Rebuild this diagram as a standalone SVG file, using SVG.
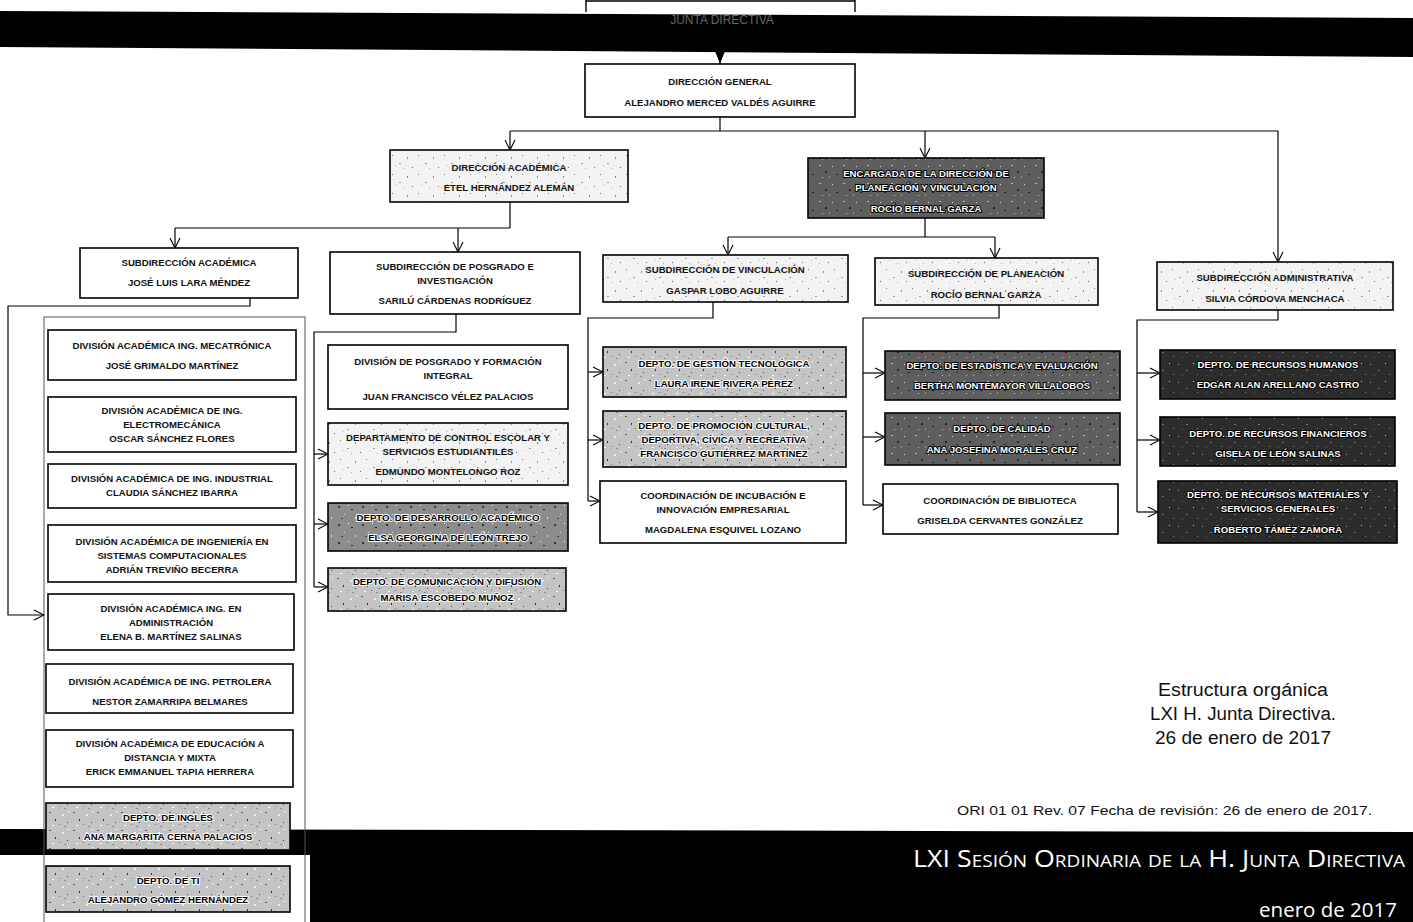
<svg xmlns="http://www.w3.org/2000/svg" width="1413" height="922" viewBox="0 0 1413 922">
<style>
.box{stroke:#000;stroke-width:1.6}
.w{fill:#fff}
.pl{fill:url(#pL)}
.pm{fill:url(#pM)}
.pd{fill:url(#pD)}
.pdd{fill:url(#pDD)}
.pvd{fill:url(#pVD)}
.t{font-family:"Liberation Sans",Arial,sans-serif;font-weight:bold;font-size:9.6px;text-anchor:middle;fill:#111}
.tw{fill:#fff;stroke:#000;stroke-width:2px;paint-order:stroke;stroke-linejoin:round}
.th{fill:#000;stroke:#fff;stroke-width:2px;paint-order:stroke;stroke-linejoin:round}
.c{fill:none;stroke:#000;stroke-width:1.2}
.a{fill:none;stroke:#000;stroke-width:1.2;marker-end:url(#arr)}
.ft{font-family:"Liberation Sans",Arial,sans-serif;fill:#111}
</style>
<defs>
<marker id="arr" markerWidth="12" markerHeight="12" refX="11" refY="6" orient="auto" markerUnits="userSpaceOnUse">
<path d="M1,1 L11,6 L1,11" fill="none" stroke="#000" stroke-width="1.1"/>
</marker>
<marker id="arrF" markerWidth="12" markerHeight="14" refX="6" refY="13" orient="0" markerUnits="userSpaceOnUse">
<path d="M1,0 L11,0 L6,13 Z" fill="#000"/>
</marker>
<pattern id="pL" width="26" height="19" patternUnits="userSpaceOnUse">
<rect width="26" height="19" fill="#f3f3f3"/>
<rect x="2" y="3" width="1" height="1" fill="#777"/><rect x="9" y="11" width="2" height="1" fill="#999"/>
<rect x="17" y="5" width="1" height="2" fill="#888"/><rect x="22" y="15" width="1" height="1" fill="#666"/>
<rect x="13" y="16" width="1" height="1" fill="#aaa"/><rect x="5" y="13" width="1" height="1" fill="#bbb"/>
</pattern>
<pattern id="pM" width="24" height="18" patternUnits="userSpaceOnUse">
<rect width="24" height="18" fill="#c4c4c4"/>
<rect x="1" y="2" width="2" height="1" fill="#555"/><rect x="7" y="9" width="1" height="2" fill="#333"/>
<rect x="14" y="4" width="2" height="2" fill="#f0f0f0"/><rect x="19" y="12" width="1" height="1" fill="#444"/>
<rect x="4" y="15" width="2" height="1" fill="#fff"/><rect x="11" y="14" width="1" height="1" fill="#666"/>
<rect x="20" y="1" width="1" height="1" fill="#fff"/><rect x="16" y="16" width="2" height="1" fill="#888"/>
</pattern>
<pattern id="pD" width="24" height="18" patternUnits="userSpaceOnUse">
<rect width="24" height="18" fill="#8c8c8c"/>
<rect x="2" y="2" width="2" height="2" fill="#333"/><rect x="8" y="10" width="1" height="1" fill="#ddd"/>
<rect x="15" y="5" width="2" height="1" fill="#222"/><rect x="19" y="13" width="1" height="2" fill="#e5e5e5"/>
<rect x="5" y="14" width="2" height="1" fill="#444"/><rect x="12" y="1" width="1" height="1" fill="#fff"/>
</pattern>
<pattern id="pDD" width="24" height="18" patternUnits="userSpaceOnUse">
<rect width="24" height="18" fill="#5e5e5e"/>
<rect x="3" y="3" width="2" height="1" fill="#bbb"/><rect x="9" y="9" width="2" height="2" fill="#222"/>
<rect x="16" y="4" width="1" height="1" fill="#ddd"/><rect x="20" y="12" width="2" height="1" fill="#1a1a1a"/>
<rect x="6" y="15" width="1" height="1" fill="#ccc"/><rect x="13" y="14" width="1" height="2" fill="#999"/>
</pattern>
<pattern id="pVD" width="24" height="18" patternUnits="userSpaceOnUse">
<rect width="24" height="18" fill="#2c2c2c"/>
<rect x="2" y="4" width="1" height="1" fill="#aaa"/><rect x="10" y="10" width="2" height="1" fill="#777"/>
<rect x="17" y="3" width="1" height="1" fill="#ccc"/><rect x="21" y="14" width="1" height="1" fill="#888"/>
<rect x="6" y="15" width="1" height="1" fill="#666"/>
</pattern>
</defs>

<rect width="1413" height="922" fill="#fff"/>

<!-- top band -->
<g id="topband">
<path d="M586,0 V12 M855,0 V12 M586,1 H855" fill="none" stroke="#000" stroke-width="1.4"/>
<polygon points="0,11 1413,18 1413,57 0,47" fill="#000"/>
<text x="722" y="24" font-family="Liberation Sans,Arial,sans-serif" font-size="12" text-anchor="middle" fill="#666">JUNTA DIRECTIVA</text>
</g>

<!-- bottom band -->
<g id="bottomband">
<polygon points="0,829 1413,832 1413,922 0,922" fill="#000"/>
<rect x="0" y="855" width="310" height="67" fill="#fff"/>
<text x="1405" y="867" font-family="Open Sans,Liberation Sans,sans-serif" font-size="24" font-variant="small-caps" text-anchor="end" textLength="492" lengthAdjust="spacingAndGlyphs" fill="#fff">LXI Sesión Ordinaria de la H. Junta Directiva</text>
<text x="1397" y="917" font-family="Open Sans,Liberation Sans,sans-serif" font-size="20.5" text-anchor="end" fill="#fff">enero de 2017</text>
</g>

<!-- left column frame -->
<g id="leftframe">
<rect x="44" y="317" width="261" height="620" fill="none" stroke="#555" stroke-width="1"/>
</g>

<!-- connectors -->
<g id="connectors">
<path d="M720,47 V64" fill="none" stroke="#000" stroke-width="1.2" marker-end="url(#arrF)"/>
<path class="c" d="M720,117 V131 M510,131 H1278"/>
<path class="a" d="M510,131 V150"/>
<path class="a" d="M925,131 V158"/>
<path class="a" d="M1278,131 V262"/>
<path class="c" d="M510,202 V228 M175,228 H510"/>
<path class="a" d="M175,228 V248"/>
<path class="a" d="M458,228 V252"/>
<path class="c" d="M925,218 V237 M728,237 H995"/>
<path class="a" d="M728,237 V255"/>
<path class="a" d="M995,237 V258"/>
<path class="a" d="M250,298 V306 H8 V615 H44"/>
<path class="c" d="M456,314 V332 H314 V587"/>
<path class="a" d="M314,454 H328"/>
<path class="a" d="M314,524 H328"/>
<path class="a" d="M314,587 H328"/>
<path class="c" d="M713,302 V318 H588 V501"/>
<path class="a" d="M588,372 H603"/>
<path class="a" d="M588,440 H603"/>
<path class="a" d="M588,501 H600"/>
<path class="c" d="M999,305 V318 H863 V505" stroke-width="1.6"/>
<path class="a" d="M863,373 H885"/>
<path class="a" d="M863,437 H885"/>
<path class="a" d="M863,505 H883"/>
<path class="c" d="M1278,310 V320 H1137 V512" stroke-width="1.6"/>
<path class="a" d="M1137,373 H1160"/>
<path class="a" d="M1137,440 H1160"/>
<path class="a" d="M1137,512 H1158"/>
</g>

<!-- top level nodes -->
<g id="n-direccion-general"><rect class="box w" x="585" y="64" width="270" height="53"/>
<text class="t" x="720" y="85">DIRECCIÓN GENERAL</text><text class="t" x="720" y="106">ALEJANDRO MERCED VALDÉS AGUIRRE</text></g>

<g id="n-direccion-academica"><rect class="box pl" x="390" y="150" width="238" height="52"/>
<text class="t" x="509" y="171">DIRECCIÓN ACADÉMICA</text><text class="t" x="509" y="191">ETEL HERNÁNDEZ ALEMÁN</text></g>

<g id="n-encargada"><rect class="box pdd" x="808" y="158" width="236" height="60"/>
<text class="t tw" x="926" y="177">ENCARGADA DE LA DIRECCIÓN DE</text><text class="t tw" x="926" y="191">PLANEACIÓN Y VINCULACIÓN</text><text class="t tw" x="926" y="212">ROCÍO BERNAL GARZA</text></g>

<g id="n-sub-academica"><rect class="box w" x="80" y="248" width="218" height="50"/>
<text class="t" x="189" y="266">SUBDIRECCIÓN ACADÉMICA</text><text class="t" x="189" y="286">JOSÉ LUIS LARA MÉNDEZ</text></g>

<g id="n-sub-posgrado"><rect class="box w" x="330" y="252" width="250" height="62"/>
<text class="t" x="455" y="270">SUBDIRECCIÓN DE POSGRADO E</text><text class="t" x="455" y="284">INVESTIGACIÓN</text><text class="t" x="455" y="304">SARILÚ CÁRDENAS RODRÍGUEZ</text></g>

<g id="n-sub-vinculacion"><rect class="box pl" x="603" y="255" width="245" height="47"/>
<text class="t" x="725" y="273">SUBDIRECCIÓN DE VINCULACIÓN</text><text class="t" x="725" y="294">GASPAR LOBO AGUIRRE</text></g>

<g id="n-sub-planeacion"><rect class="box pl" x="875" y="258" width="223" height="47"/>
<text class="t" x="986" y="277">SUBDIRECCIÓN DE PLANEACIÓN</text><text class="t" x="986" y="298">ROCÍO BERNAL GARZA</text></g>

<g id="n-sub-administrativa"><rect class="box pl" x="1157" y="262" width="236" height="48"/>
<text class="t" x="1275" y="281">SUBDIRECCIÓN ADMINISTRATIVA</text><text class="t" x="1275" y="302">SILVIA CÓRDOVA MENCHACA</text></g>

<!-- left column -->
<g id="n-div-mecatronica"><rect class="box w" x="48" y="330" width="248" height="50"/>
<text class="t" x="172" y="349">DIVISIÓN ACADÉMICA ING. MECATRÓNICA</text><text class="t" x="172" y="369">JOSÉ GRIMALDO MARTÍNEZ</text></g>
<g id="n-div-electromecanica"><rect class="box w" x="48" y="397" width="248" height="55"/>
<text class="t" x="172" y="414">DIVISIÓN ACADÉMICA DE ING.</text><text class="t" x="172" y="428">ELECTROMECÁNICA</text><text class="t" x="172" y="442">OSCAR SÁNCHEZ FLORES</text></g>
<g id="n-div-industrial"><rect class="box w" x="48" y="464" width="248" height="44"/>
<text class="t" x="172" y="482">DIVISIÓN ACADÉMICA DE ING. INDUSTRIAL</text><text class="t" x="172" y="496">CLAUDIA SÁNCHEZ IBARRA</text></g>
<g id="n-div-sistemas"><rect class="box w" x="48" y="525" width="248" height="57"/>
<text class="t" x="172" y="545">DIVISIÓN ACADÉMICA DE INGENIERÍA EN</text><text class="t" x="172" y="559">SISTEMAS COMPUTACIONALES</text><text class="t" x="172" y="573">ADRIÁN TREVIÑO BECERRA</text></g>
<g id="n-div-administracion"><rect class="box w" x="48" y="594" width="246" height="56"/>
<text class="t" x="171" y="612">DIVISIÓN ACADÉMICA ING. EN</text><text class="t" x="171" y="626">ADMINISTRACIÓN</text><text class="t" x="171" y="640">ELENA B. MARTÍNEZ SALINAS</text></g>
<g id="n-div-petrolera"><rect class="box w" x="46" y="664" width="247" height="49"/>
<text class="t" x="170" y="685">DIVISIÓN ACADÉMICA DE ING. PETROLERA</text><text class="t" x="170" y="705">NESTOR ZAMARRIPA BELMARES</text></g>
<g id="n-div-distancia"><rect class="box w" x="46" y="730" width="247" height="57"/>
<text class="t" x="170" y="747">DIVISIÓN ACADÉMICA DE EDUCACIÓN A</text><text class="t" x="170" y="761">DISTANCIA Y MIXTA</text><text class="t" x="170" y="775">ERICK EMMANUEL TAPIA HERRERA</text></g>
<g id="n-depto-ingles"><rect class="box pm" x="46" y="803" width="244" height="47"/>
<text class="t th" x="168" y="821">DEPTO. DE INGLÉS</text><text class="t th" x="168" y="840">ANA MARGARITA CERNA PALACIOS</text></g>
<g id="n-depto-ti"><rect class="box pm" x="46" y="866" width="244" height="46"/>
<text class="t th" x="168" y="884">DEPTO. DE TI</text><text class="t th" x="168" y="903">ALEJANDRO GÓMEZ HERNÁNDEZ</text></g>

<!-- posgrado column -->
<g id="n-div-posgrado"><rect class="box w" x="328" y="345" width="240" height="64"/>
<text class="t" x="448" y="365">DIVISIÓN DE POSGRADO Y FORMACIÓN</text><text class="t" x="448" y="379">INTEGRAL</text><text class="t" x="448" y="400">JUAN FRANCISCO VÉLEZ PALACIOS</text></g>
<g id="n-control-escolar"><rect class="box pl" x="328" y="423" width="240" height="62"/>
<text class="t" x="448" y="441">DEPARTAMENTO DE CONTROL ESCOLAR Y</text><text class="t" x="448" y="455">SERVICIOS ESTUDIANTILES</text><text class="t" x="448" y="475">EDMUNDO MONTELONGO ROZ</text></g>
<g id="n-desarrollo-academico"><rect class="box pd" x="328" y="503" width="240" height="48"/>
<text class="t th" x="448" y="521">DEPTO. DE DESARROLLO ACADÉMICO</text><text class="t th" x="448" y="541">ELSA GEORGINA DE LEÓN TREJO</text></g>
<g id="n-comunicacion"><rect class="box pm" x="328" y="568" width="238" height="43"/>
<text class="t th" x="447" y="585">DEPTO. DE COMUNICACIÓN Y DIFUSIÓN</text><text class="t th" x="447" y="601">MARISA ESCOBEDO MUÑOZ</text></g>

<!-- vinculacion column -->
<g id="n-gestion-tecnologica"><rect class="box pm" x="603" y="347" width="243" height="50"/>
<text class="t th" x="724" y="367">DEPTO. DE GESTIÓN TECNOLÓGICA</text><text class="t th" x="724" y="387">LAURA IRENE RIVERA PÉREZ</text></g>
<g id="n-promocion-cultural"><rect class="box pm" x="603" y="411" width="243" height="56"/>
<text class="t th" x="724" y="429">DEPTO. DE PROMOCIÓN CULTURAL,</text><text class="t th" x="724" y="443">DEPORTIVA, CÍVICA Y RECREATIVA</text><text class="t th" x="724" y="457">FRANCISCO GUTIÉRREZ MARTÍNEZ</text></g>
<g id="n-incubacion"><rect class="box w" x="600" y="481" width="246" height="62"/>
<text class="t" x="723" y="499">COORDINACIÓN DE INCUBACIÓN E</text><text class="t" x="723" y="513">INNOVACIÓN EMPRESARIAL</text><text class="t" x="723" y="533">MAGDALENA ESQUIVEL LOZANO</text></g>

<!-- planeacion column -->
<g id="n-estadistica"><rect class="box pdd" x="885" y="351" width="235" height="49"/>
<text class="t tw" x="1002" y="369">DEPTO. DE ESTADÍSTICA Y EVALUACIÓN</text><text class="t tw" x="1002" y="389">BERTHA MONTEMAYOR VILLALOBOS</text></g>
<g id="n-calidad"><rect class="box pdd" x="885" y="413" width="235" height="52"/>
<text class="t tw" x="1002" y="432">DEPTO. DE CALIDAD</text><text class="t tw" x="1002" y="453">ANA JOSEFINA MORALES CRUZ</text></g>
<g id="n-biblioteca"><rect class="box w" x="883" y="484" width="235" height="50"/>
<text class="t" x="1000" y="504">COORDINACIÓN DE BIBLIOTECA</text><text class="t" x="1000" y="524">GRISELDA CERVANTES GONZÁLEZ</text></g>

<!-- administrativa column -->
<g id="n-rh"><rect class="box pvd" x="1160" y="350" width="235" height="49"/>
<text class="t tw" x="1278" y="368">DEPTO. DE RECURSOS HUMANOS</text><text class="t tw" x="1278" y="388">EDGAR ALAN ARELLANO CASTRO</text></g>
<g id="n-rf"><rect class="box pvd" x="1160" y="417" width="235" height="49"/>
<text class="t tw" x="1278" y="437">DEPTO. DE RECURSOS FINANCIEROS</text><text class="t tw" x="1278" y="457">GISELA DE LEÓN SALINAS</text></g>
<g id="n-rm"><rect class="box pvd" x="1158" y="481" width="239" height="62"/>
<text class="t tw" x="1278" y="498">DEPTO. DE RECURSOS MATERIALES Y</text><text class="t tw" x="1278" y="512">SERVICIOS GENERALES</text><text class="t tw" x="1278" y="533">ROBERTO TÁMEZ ZAMORA</text></g>

<!-- footer notes -->
<g id="notes">
<text class="ft" x="1243" y="696" font-size="18" text-anchor="middle" textLength="170" lengthAdjust="spacingAndGlyphs">Estructura orgánica</text>
<text class="ft" x="1243" y="720" font-size="18" text-anchor="middle" textLength="186" lengthAdjust="spacingAndGlyphs">LXI H. Junta Directiva.</text>
<text class="ft" x="1243" y="744" font-size="18" text-anchor="middle" textLength="176" lengthAdjust="spacingAndGlyphs">26 de enero de 2017</text>
<text class="ft" x="1372" y="815" font-size="13" text-anchor="end" textLength="415" lengthAdjust="spacingAndGlyphs">ORI 01 01 Rev. 07 Fecha de revisión: 26 de enero de 2017.</text>
</g>
</svg>
